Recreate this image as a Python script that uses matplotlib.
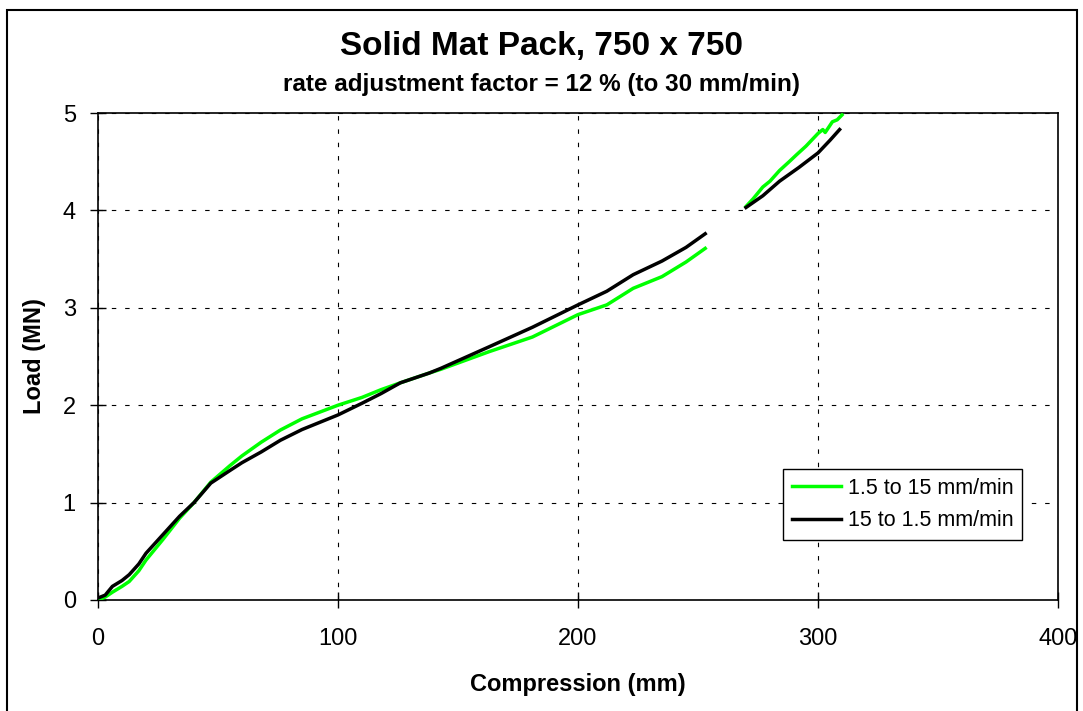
import matplotlib
matplotlib.use("Agg")
import matplotlib.pyplot as plt
import numpy as np
from matplotlib.patches import Rectangle

plt.rcParams['font.family'] = ['Liberation Sans', 'DejaVu Sans']

# Series 1: 1.5 to 15 mm/min (green), two segments
green_x1 = [0, 3, 6, 10, 13, 17, 20, 27, 34, 40, 47, 55, 60, 68, 76, 85, 100, 110, 118, 126, 138, 143, 163, 181, 200, 212, 223, 235, 245, 253]
green_y1 = [0.0, 0.03, 0.08, 0.14, 0.19, 0.30, 0.41, 0.62, 0.84, 1.0, 1.21, 1.38, 1.48, 1.62, 1.745, 1.86, 2.0, 2.08, 2.16, 2.23, 2.33, 2.37, 2.55, 2.70, 2.93, 3.03, 3.20, 3.32, 3.47, 3.61]
green_x2 = [270, 273, 277, 280, 284, 288, 291, 295, 300, 302, 303, 306, 308, 310]
green_y2 = [4.04, 4.12, 4.24, 4.30, 4.41, 4.50, 4.57, 4.66, 4.79, 4.83, 4.80, 4.91, 4.93, 4.98]

# Series 2: 15 to 1.5 mm/min (black), two segments
black_x1 = [0, 3, 6, 10, 13, 17, 20, 27, 34, 40, 47, 55, 60, 68, 76, 85, 100, 110, 118, 126, 138, 143, 163, 181, 200, 212, 223, 235, 245, 253]
black_y1 = [0.02, 0.05, 0.14, 0.20, 0.26, 0.37, 0.48, 0.67, 0.86, 1.0, 1.20, 1.33, 1.41, 1.52, 1.64, 1.75, 1.90, 2.02, 2.12, 2.23, 2.33, 2.38, 2.60, 2.80, 3.03, 3.17, 3.34, 3.48, 3.62, 3.76]
black_x2 = [270, 277, 284, 292, 300, 305, 309]
black_y2 = [4.03, 4.15, 4.30, 4.44, 4.59, 4.72, 4.83]

labels = ["1.5 to 15 mm/min", "15 to 1.5 mm/min"]
xticks = [0, 100, 200, 300, 400]
yticks = [0, 1, 2, 3, 4, 5]

fig = plt.figure(figsize=(10.83, 7.11), dpi=100)
ax = fig.add_axes([98/1083, 1 - 600/711, 960/1083, 487/711])

gx = green_x1 + [np.nan] + green_x2
gy = green_y1 + [np.nan] + green_y2
bx = black_x1 + [np.nan] + black_x2
by = black_y1 + [np.nan] + black_y2

ax.plot(gx, gy, color='#00FF00', lw=2.5, label=labels[0], zorder=3)
ax.plot(bx, by, color='black', lw=2.5, label=labels[1], zorder=4)

ax.set_xlim(0, 400)
ax.set_ylim(0, 5)
ax.set_xticks(xticks)
ax.set_yticks(yticks)
ax.tick_params(direction='inout', length=12, width=1, labelsize=17)
ax.tick_params(axis='y', pad=10)
ax.tick_params(axis='x', pad=14)
ax.grid(True, color='black', linestyle=(0, (4, 8)), linewidth=0.8)
for s in ax.spines.values():
    s.set_linewidth(1.2)

ax.set_xlabel("Compression (mm)", fontsize=17, fontweight='bold', labelpad=17)
ax.set_ylabel("Load (MN)", fontsize=17, fontweight='bold', labelpad=12)

fig.text(0.5, 1 - 46/711, "Solid Mat Pack, 750 x 750", ha='center', va='center', fontsize=24, fontweight='bold')
fig.text(0.5, 1 - 84/711, "rate adjustment factor = 12 % (to 30 mm/min)", ha='center', va='center', fontsize=17.5, fontweight='bold')

leg = ax.legend(loc='lower right', bbox_to_anchor=(1022/1083, 1 - 540/711), bbox_transform=fig.transFigure,
                fontsize=15.5, frameon=True, fancybox=False, edgecolor='black', framealpha=1,
                handlelength=2.3, borderpad=0.4, labelspacing=0.55, handletextpad=0.3, borderaxespad=0)
leg.get_frame().set_linewidth(1.0)

# white mask beyond the right border (reference crops the "400" label), then the border
fig.patches.append(Rectangle((1077/1083, 0), 6/1083, 1, transform=fig.transFigure,
                             facecolor='white', edgecolor='none', zorder=10))
fig.patches.append(Rectangle((7/1083, -0.01), 1070/1083, 1 - 10/711 + 0.01, transform=fig.transFigure,
                             fill=False, edgecolor='black', linewidth=1.5, zorder=11))

fig.savefig("out.png", dpi=100)
